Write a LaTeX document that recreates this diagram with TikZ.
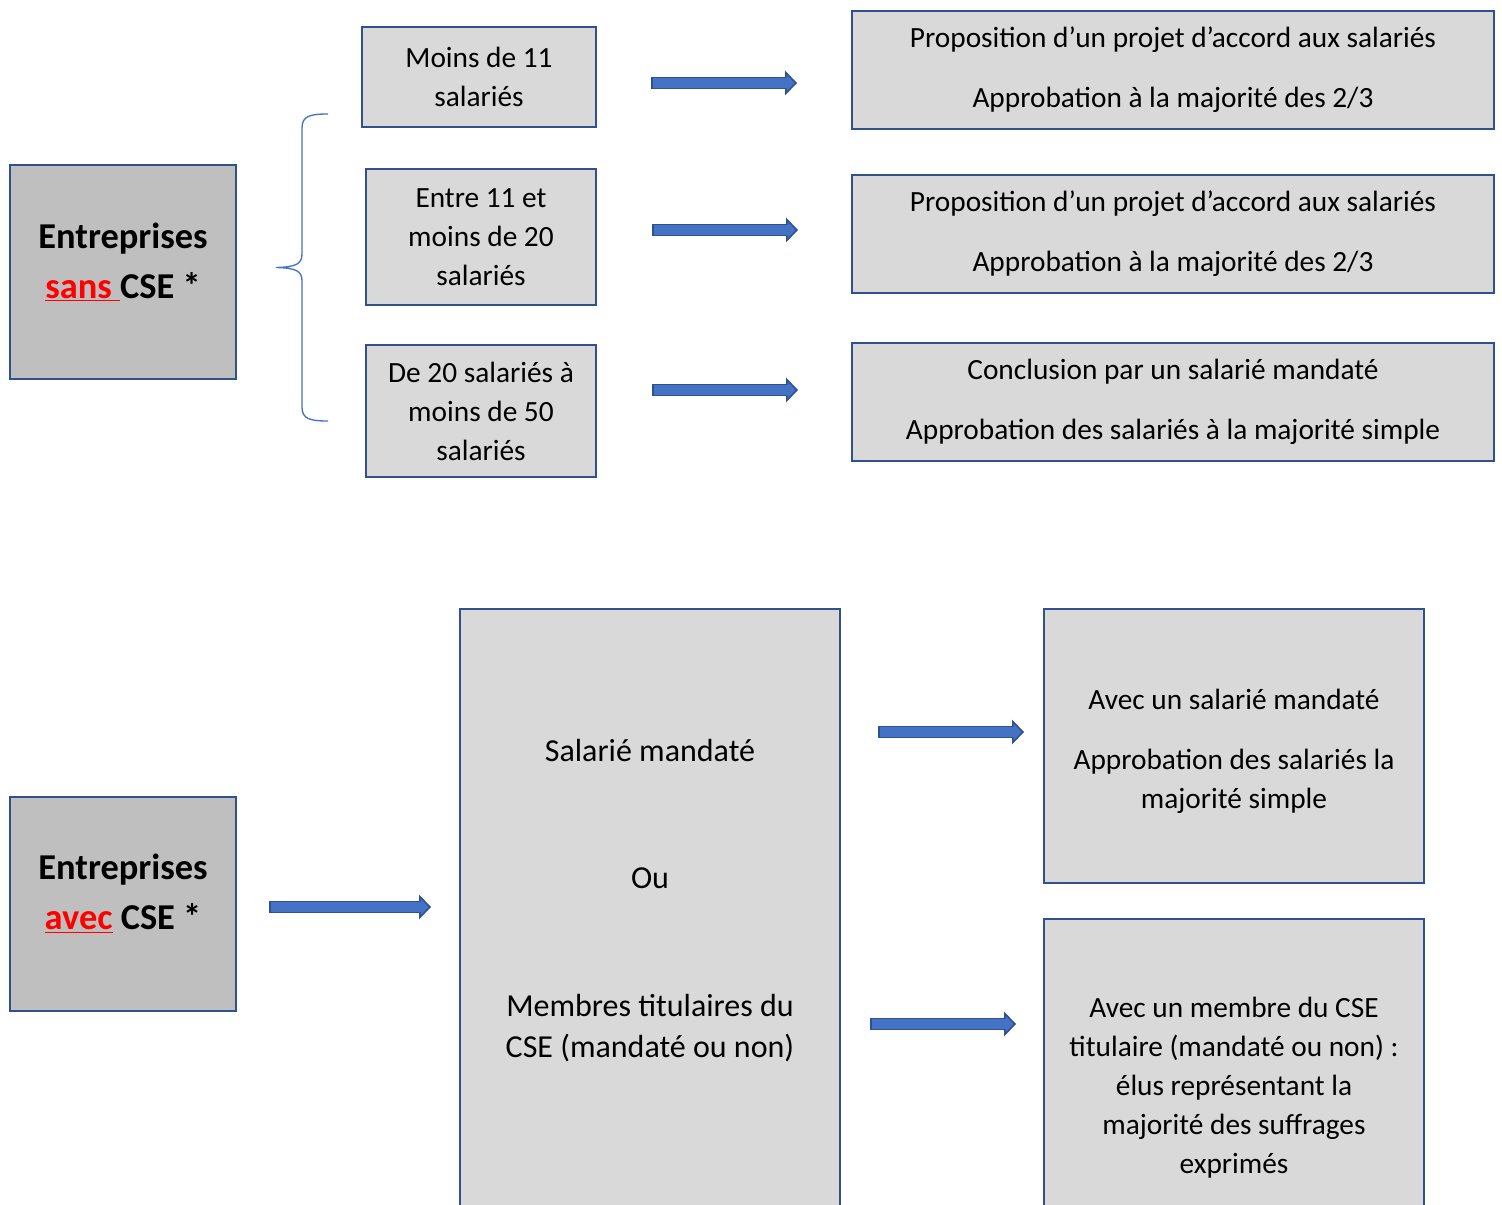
\documentclass[tikz,border=0pt]{standalone}
\usepackage{fontspec}
\setmainfont{Carlito}
\usetikzlibrary{positioning,arrows.meta}
\definecolor{boxblue}{HTML}{2F528F}
\definecolor{boxgray}{HTML}{D9D9D9}
\definecolor{boxdark}{HTML}{BFBFBF}
\definecolor{arrowblue}{HTML}{4472C4}
\definecolor{arrowdark}{HTML}{2F528F}

\begin{document}
\begin{tikzpicture}[
    x=0.75pt, y=-0.75pt,
    box/.style={draw=boxblue, line width=1.8pt, fill=boxgray, align=center, inner sep=0pt, font=\fontsize{22}{29.25}\selectfont},
    bigbox/.style={box, fill=boxdark},
    boxtext/.style={align=center, inner sep=0pt, font=\fontsize{22}{29.25}\selectfont},
    bigtext/.style={boxtext, font=\fontsize{27.3}{37.5}\selectfont\bfseries},
    size/.style 2 args={minimum width=#1*0.75pt, minimum height=#2*0.75pt},
    blockarrow/.style={draw=arrowblue, line width=6.8pt, shorten <=1.3pt, shorten >=1.8pt,
        -{Triangle[length=5.9pt, width=12.3pt, line width=0pt]},
        preaction={draw=arrowdark, line width=9.4pt, shorten <=0pt, shorten >=0pt,
        -{Triangle[length=9pt, width=18.75pt, line width=0pt]}}},
    bracket/.style={draw=arrowblue, line width=1pt}
]
\clip (0,0) rectangle (1502,1205);

% ----- Entreprises sans CSE -----
\node[bigbox, size={226}{214}] (sans) at (123,272) {};
\node[bigtext] (sanstext) at (123,262) {Entreprises\\{\color{red}\underline{sans\ }}CSE *};

\node[box, size={234}{100}] (less11) at (479,77) {Moins de 11\\salariés};
\node[box, size={230}{136}] (from11) at (481,237) {Entre 11 et\\moins de 20\\salariés};
\node[box, size={230}{132}] (from20) at (481,411) {De 20 salariés à\\moins de 50\\salariés};

\node[box, size={642}{118}] (rule11) at (1173,70) {Proposition d’un projet d’accord aux salariés\\[15.75pt]Approbation à la majorité des 2/3};
\node[box, size={642}{118}] (rule20) at (1173,234) {Proposition d’un projet d’accord aux salariés\\[15.75pt]Approbation à la majorité des 2/3};
\node[box, size={642}{118}] (rule50) at (1173,402) {Conclusion par un salarié mandaté\\[15.75pt]Approbation des salariés à la majorité simple};

% brace
\draw[bracket] (328,114) .. controls (310,114) and (302,116) .. (302,128) -- (302,254)
    .. controls (302,264) and (296,267) .. (276,267.5)
    .. controls (296,268) and (302,271) .. (302,281) -- (302,407)
    .. controls (302,419) and (310,421) .. (328,421);

% arrows
\coordinate (a11s) at (651,83);
\coordinate (a11e) at (797,83);
\coordinate (a20s) at (652,230);
\coordinate (a20e) at (798,230);
\coordinate (a50s) at (652,390);
\coordinate (a50e) at (798,390);
\draw[blockarrow] (a11s) -- (a11e);
\draw[blockarrow] (a20s) -- (a20e);
\draw[blockarrow] (a50s) -- (a50e);

% ----- Entreprises avec CSE -----
\node[bigbox, size={226}{214}] (avec) at (123,904) {};
\node[bigtext] (avectext) at (123,893.5) {Entreprises\\{\color{red}\underline{avec}} CSE *};

\node[box, size={380}{621}] (who) at (650,919.5) {};
\node[boxtext, font=\fontsize{24}{30.75}\selectfont] (whotext) at (650,901) {Salarié mandaté\\[64.5pt]Ou\\[65.25pt]Membres titulaires du\\CSE (mandaté ou non)};

\node[box, size={380}{274}] (withmand) at (1234,746) {};
\node[boxtext] (withmandtext) at (1234,751) {Avec un salarié mandaté\\[15.75pt]Approbation des salariés la\\majorité simple};
\node[box, size={380}{311}] (withcse) at (1234,1074.5) {};
\node[boxtext] (withcsetext) at (1234,1088) {Avec un membre du CSE\\titulaire (mandaté ou non) :\\élus représentant la\\majorité des suffrages\\exprimés};

% arrows
\coordinate (acses) at (269,907);
\coordinate (acsee) at (431,907);
\coordinate (amands) at (878,732);
\coordinate (amande) at (1024,732);
\coordinate (amembs) at (870,1024);
\coordinate (amembe) at (1016,1024);
\draw[blockarrow] (acses) -- (acsee);
\draw[blockarrow] (amands) -- (amande);
\draw[blockarrow] (amembs) -- (amembe);

\end{tikzpicture}
\end{document}
